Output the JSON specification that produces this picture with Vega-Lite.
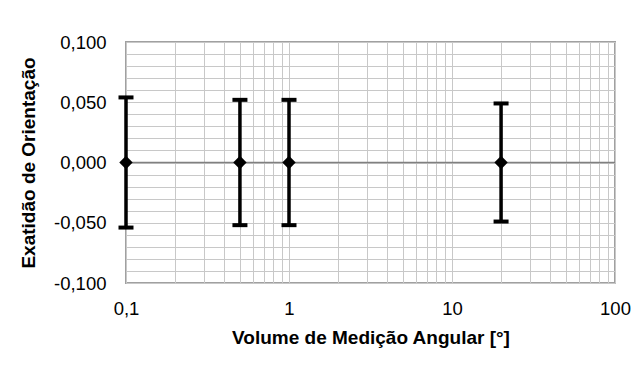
{
  "$schema": "https://vega.github.io/schema/vega-lite/v6.json",
  "autosize": "none",
  "width": 489,
  "height": 241,
  "padding": {"left": 126, "top": 42, "right": 26, "bottom": 84},
  "background": "white",
  "config": {
    "font": "Liberation Sans",
    "view": {"stroke": "#a0a0a0", "strokeWidth": 2},
    "axis": {"labelFont": "Liberation Sans", "titleFont": "Liberation Sans", "labelColor": "black", "titleColor": "black"}
  },
  "data": {
    "values": [
      {"x": 0.1, "y": 0, "lo": -0.054, "hi": 0.054},
      {"x": 0.5, "y": 0, "lo": -0.052, "hi": 0.052},
      {"x": 1, "y": 0, "lo": -0.052, "hi": 0.052},
      {"x": 20, "y": 0, "lo": -0.049, "hi": 0.049}
    ]
  },
  "encoding": {
    "x": {
      "field": "x", "type": "quantitative",
      "scale": {"type": "log", "domain": [0.1, 100], "nice": false},
      "axis": {
        "title": "Volume de Medição Angular [°]",
        "values": [0.1,0.2,0.3,0.4,0.5,0.6,0.7,0.8,0.9,1,2,3,4,5,6,7,8,9,10,20,30,40,50,60,70,80,90,100],
        "labelExpr": "datum.value == 0.1 ? '0,1' : (datum.value == 1 || datum.value == 10 || datum.value == 100 ? format(datum.value, 'd') : '')",
        "labelOverlap": false,
        "labelFlush": false,
        "labelFontSize": 18.5,
        "labelPadding": 16,
        "labelBaseline": "top",
        "ticks": false,
        "domain": false,
        "grid": true,
        "gridColor": "#c8c8c8",
        "gridWidth": 1,
        "titleFontSize": 19,
        "titleFontWeight": "bold",
        "titlePadding": 11
      }
    },
    "y": {
      "field": "y", "type": "quantitative",
      "scale": {"domain": [-0.1, 0.1], "nice": false, "zero": false},
      "axis": {
        "title": "Exatidão de Orientação",
        "values": [-0.1,-0.09,-0.08,-0.07,-0.06,-0.05,-0.04,-0.03,-0.02,-0.01,0,0.01,0.02,0.03,0.04,0.05,0.06,0.07,0.08,0.09,0.1],
        "labelExpr": "abs(datum.value * 20 - round(datum.value * 20)) < 0.000001 ? replace(replace(format(datum.value, '.3f'), '.', ','), '−', '-') : ''",
        "labelOverlap": false,
        "labelFlush": false,
        "labelFontSize": 18.5,
        "labelPadding": 20,
        "ticks": false,
        "domain": false,
        "grid": true,
        "gridColor": "#c8c8c8",
        "gridWidth": 1,
        "titleFontSize": 19,
        "titleFontWeight": "bold",
        "titlePadding": 15
      }
    }
  },
  "layer": [
    {
      "data": {"values": [{"z": 0}]},
      "mark": {"type": "rule", "color": "#808080", "strokeWidth": 1.5},
      "encoding": {"y": {"field": "z", "type": "quantitative"}, "x": null}
    },
    {
      "mark": {"type": "rule", "color": "black", "strokeWidth": 3.5},
      "encoding": {
        "y": {"field": "lo", "type": "quantitative"},
        "y2": {"field": "hi"}
      }
    },
    {
      "mark": {"type": "tick", "orient": "horizontal", "color": "black", "thickness": 4, "size": 15, "opacity": 1},
      "encoding": {"y": {"field": "lo", "type": "quantitative"}}
    },
    {
      "mark": {"type": "tick", "orient": "horizontal", "color": "black", "thickness": 4, "size": 15, "opacity": 1},
      "encoding": {"y": {"field": "hi", "type": "quantitative"}}
    },
    {
      "mark": {"type": "point", "shape": "diamond", "filled": true, "color": "black", "size": 180, "opacity": 1}
    }
  ]
}
